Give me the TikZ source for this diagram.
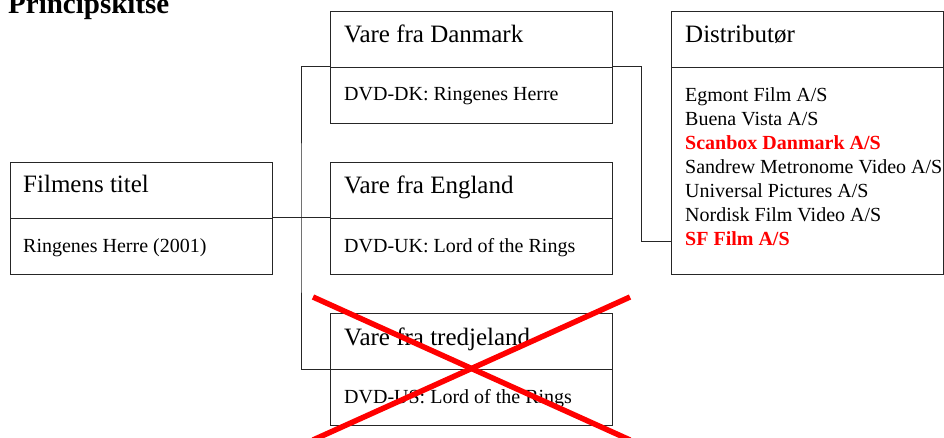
\documentclass[tikz,border=0pt]{standalone}
\usepackage{fontspec}
\setmainfont{Liberation Serif}
\usetikzlibrary{calc}
\begin{document}
\begin{tikzpicture}[x=1pt,y=-1pt,
  box/.style={draw=black!85, line width=1pt, rectangle, inner sep=0pt, anchor=north west},
  wbox/.style={box, minimum width=282pt, minimum height=56pt},
  head/.style={anchor=base west, inner sep=0pt, font=\fontsize{25}{30}\selectfont},
  body/.style={anchor=base west, inner sep=0pt, font=\fontsize{20}{24}\selectfont},
  redbody/.style={body, text=red, font=\bfseries\fontsize{20}{24}\selectfont},
  conn/.style={draw=black!85, line width=1pt},
  cross/.style={draw=red, line width=5.5pt}]
\useasboundingbox (0,0) rectangle (944,438);

% title
\node[anchor=base west, inner sep=0pt, font=\bfseries\fontsize{29}{34}\selectfont] (title) at (8,14) {Principskitse};

% Filmens titel
\node[box, minimum width=262pt, minimum height=56pt] (ftH) at (10,162) {};
\node[box, minimum width=262pt, minimum height=56pt] (ftB) at (10,218) {};
\node[head] (ftHt) at (23,193) {Filmens titel};
\node[body] (ftBt) at (23,252) {Ringenes Herre (2001)};

% Vare fra Danmark
\node[wbox] (dkH) at (330,11) {};
\node[wbox] (dkB) at (330,67) {};
\node[head] (dkHt) at (344,43) {Vare fra Danmark};
\node[body] (dkBt) at (344,101) {DVD-DK: Ringenes Herre};

% Vare fra England
\node[wbox] (ukH) at (330,162) {};
\node[wbox] (ukB) at (330,218) {};
\node[head] (ukHt) at (344,194) {Vare fra England};
\node[body] (ukBt) at (344,252) {DVD-UK: Lord of the Rings};

% Vare fra tredjeland
\node[wbox] (usH) at (330,313) {};
\node[wbox] (usB) at (330,369) {};
\node[head] (usHt) at (344,345) {Vare fra tredjeland};
\node[body] (usBt) at (344,403) {DVD-US: Lord of the Rings};

% Distributor
\node[box, minimum width=272pt, minimum height=56pt] (diH) at (671,11) {};
\node[box, minimum width=272pt, minimum height=207pt] (diB) at (671,67) {};
\node[head] (diHt) at (685,43) {Distributør};
\node[body] (d1) at (685,102) {Egmont Film A/S};
\node[body] (d2) at (685,126) {Buena Vista A/S};
\node[redbody] (d3) at (685,150) {Scanbox Danmark A/S};
\node[body] (d4) at (685,174) {Sandrew Metronome Video A/S};
\node[body] (d5) at (685,198) {Universal Pictures A/S};
\node[body] (d6) at (685,222) {Nordisk Film Video A/S};
\node[redbody] (d7) at (685,246) {SF Film A/S};

% connectors
\coordinate (jx) at (301,218);
\coordinate (dj) at (641,242);
\draw[conn] (ftB.north east) -- (ukB.north west);
\draw[conn] (dkB.north west) -| (jx) |- (usB.north west);
\draw[conn] (dkB.north east) -| (dj) -- (diB.west |- dj);

% red cross
\draw[cross] (313,297) -- (630,440);
\draw[cross] (630,297) -- (313,440);
\end{tikzpicture}
\end{document}
